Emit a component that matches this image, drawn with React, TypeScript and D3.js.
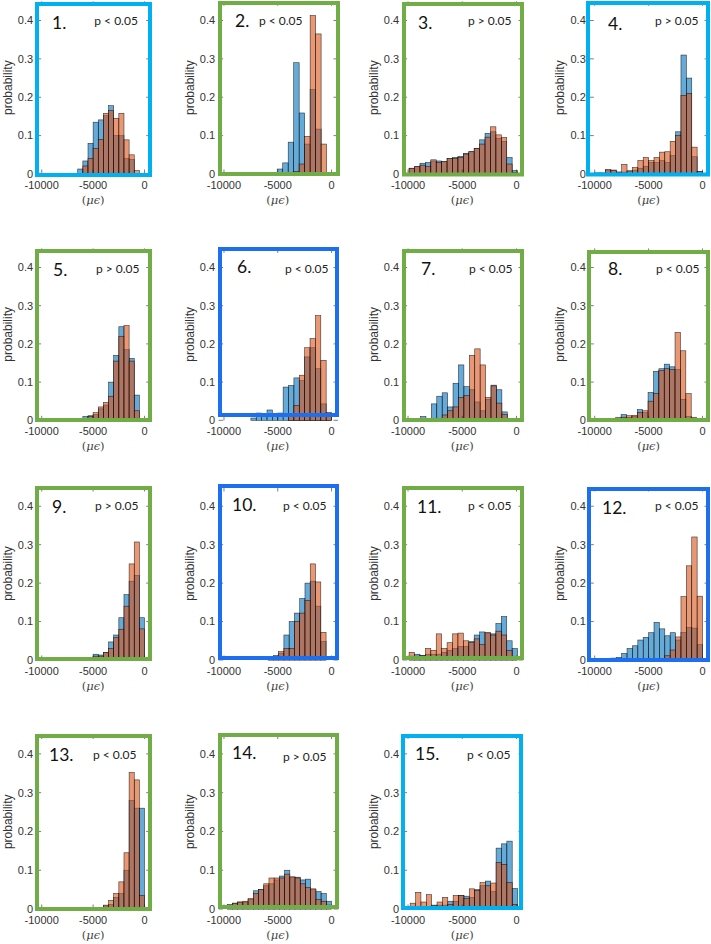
import { useEffect, useRef } from "react";
import * as d3 from "d3";

// ---- data ----
const panelNames = ["1.", "2.", "3.", "4.", "5.", "6.", "7.", "8.", "9.", "10.", "11.", "12.", "13.", "14.", "15."];
const pLabels = [
  "p < 0.05", "p < 0.05", "p > 0.05", "p > 0.05",
  "p > 0.05", "p < 0.05", "p < 0.05", "p < 0.05",
  "p > 0.05", "p < 0.05", "p < 0.05", "p < 0.05",
  "p < 0.05", "p > 0.05", "p < 0.05",
];
const frameGroup = ["light", "green", "green", "light", "green", "blue", "green", "green", "green", "blue", "green", "blue", "green", "green", "light"];

// first bin edge and bin width (με) of every panel
const binStart = [-6500, -5050, -9900, -10000, -10000, -10000, -8850, -8550, -6000, -5900, -9900, -10000, -5000, -9700, -9800];
const binWidth = [500, 510, 500, 500, 500, 500, 500, 500, 500, 490, 500, 500, 500, 485, 495];

const blue1 = [0.013, 0.034, 0.08, 0.135, 0.141, 0.152, 0.178, 0.1, 0.1, 0.04, 0.038, 0];
const orange1 = [0, 0.021, 0.041, 0.067, 0.09, 0.158, 0.165, 0.145, 0.158, 0.089, 0.05, 0.009];
const blue2 = [0.013, 0.029, 0.083, 0.29, 0.159, 0.078, 0.22, 0.117, 0];
const orange2 = [0, 0, 0, 0.007, 0.026, 0.098, 0.413, 0.365, 0.078];
const blue3 = [0.015, 0.019, 0.028, 0.03, 0.034, 0.034, 0.032, 0.04, 0.043, 0.046, 0.054, 0.058, 0.067, 0.089, 0.106, 0.11, 0.093, 0.085, 0.043, 0.009];
const orange3 = [0.015, 0.019, 0.023, 0.02, 0.037, 0.03, 0.033, 0.04, 0.041, 0.043, 0.052, 0.058, 0.067, 0.078, 0.096, 0.123, 0.102, 0.095, 0.026, 0.004];
const blue4 = [0.003, 0.003, 0.01, 0.01, 0.005, 0.005, 0.008, 0.01, 0.015, 0.02, 0.03, 0.03, 0.035, 0.03, 0.048, 0.11, 0.31, 0.25, 0.045, 0.006];
const orange4 = [0, 0, 0.012, 0.01, 0.005, 0.025, 0.008, 0.017, 0.035, 0.043, 0.035, 0.043, 0.057, 0.058, 0.085, 0.1, 0.205, 0.21, 0.07, 0.006];
const blue5 = [0.002, 0.002, 0.002, 0, 0.003, 0.005, 0.005, 0.002, 0.01, 0.012, 0.015, 0.03, 0.04, 0.1, 0.17, 0.245, 0.185, 0.162, 0.066];
const orange5 = [0.002, 0.002, 0, 0, 0.003, 0.005, 0.005, 0.002, 0.005, 0.01, 0.02, 0.035, 0.047, 0.063, 0.155, 0.22, 0.248, 0.155, 0.025];
const blue6 = [0, 0, 0, 0, 0, 0.006, 0.019, 0.018, 0.027, 0.017, 0.019, 0.087, 0.091, 0.111, 0.104, 0.166, 0.19, 0.135, 0.043, 0.01];
const orange6 = [0, 0, 0, 0, 0, 0, 0, 0, 0, 0, 0, 0, 0.015, 0.039, 0.118, 0.19, 0.214, 0.274, 0.157, 0.021];
const blue7 = [0.01, 0.002, 0.043, 0.063, 0.072, 0.035, 0.097, 0.145, 0.088, 0.08, 0.048, 0.025, 0.055, 0.092, 0.08, 0.022];
const orange7 = [0, 0, 0, 0.005, 0.014, 0.025, 0.035, 0.06, 0.065, 0.17, 0.187, 0.145, 0.06, 0.09, 0.045, 0.015];
const blue8 = [0.002, 0.004, 0.015, 0.008, 0.01, 0.028, 0.02, 0.073, 0.128, 0.135, 0.147, 0.14, 0.133, 0.055, 0.01, 0];
const orange8 = [0.003, 0.008, 0.008, 0.012, 0.013, 0.02, 0.025, 0.05, 0.07, 0.13, 0.135, 0.133, 0.23, 0.182, 0.07, 0.008];
const blue9 = [0.003, 0.005, 0.015, 0.013, 0.02, 0.047, 0.065, 0.11, 0.17, 0.205, 0.22, 0.11];
const orange9 = [0.002, 0.003, 0.01, 0.01, 0.02, 0.03, 0.058, 0.08, 0.14, 0.25, 0.307, 0.081];
const blue10 = [0.002, 0.008, 0.018, 0.065, 0.1, 0.122, 0.16, 0.2, 0.205, 0.14, 0.048];
const orange10 = [0.003, 0.012, 0.022, 0.03, 0.03, 0.1, 0.122, 0.155, 0.25, 0.203, 0.072];
const blue11 = [0.01, 0.015, 0.012, 0.015, 0.015, 0.015, 0.02, 0.025, 0.03, 0.035, 0.035, 0.048, 0.065, 0.073, 0.07, 0.068, 0.095, 0.113, 0.05, 0.03];
const orange11 = [0.02, 0.01, 0.012, 0.03, 0.025, 0.068, 0.03, 0.045, 0.068, 0.07, 0.05, 0.045, 0.055, 0.04, 0.072, 0.065, 0.075, 0.065, 0.025, 0.005];
const blue12 = [0.002, 0.003, 0.004, 0.005, 0.007, 0.017, 0.03, 0.037, 0.052, 0.059, 0.071, 0.098, 0.081, 0.063, 0.071, 0.052, 0.072, 0.085, 0.083, 0.04];
const orange12 = [0, 0, 0, 0, 0, 0, 0, 0, 0, 0, 0, 0, 0, 0.011, 0.026, 0.06, 0.165, 0.245, 0.32, 0.166];
const blue13 = [0.003, 0.003, 0.008, 0.012, 0.03, 0.04, 0.1, 0.28, 0.26, 0.26];
const orange13 = [0.003, 0.002, 0.01, 0.022, 0.04, 0.07, 0.145, 0.352, 0.333, 0.035];
const blue14 = [0.012, 0.015, 0.018, 0.018, 0.025, 0.047, 0.05, 0.06, 0.065, 0.075, 0.085, 0.1, 0.082, 0.082, 0.075, 0.077, 0.05, 0.045, 0.04, 0.02];
const orange14 = [0.007, 0.015, 0.018, 0.02, 0.027, 0.04, 0.05, 0.065, 0.08, 0.08, 0.08, 0.09, 0.083, 0.08, 0.065, 0.055, 0.052, 0.025, 0.02, 0.01];
const blue15 = [0.005, 0.005, 0.005, 0.005, 0.01, 0.01, 0.01, 0.02, 0.02, 0.035, 0.033, 0.03, 0.05, 0.06, 0.072, 0.045, 0.157, 0.168, 0.175, 0.053];
const orange15 = [0.015, 0.043, 0.018, 0.037, 0.008, 0.018, 0.03, 0.012, 0.035, 0.035, 0.027, 0.052, 0.048, 0.068, 0.06, 0.067, 0.12, 0.115, 0.068, 0.012];

const blueSeries = [blue1, blue2, blue3, blue4, blue5, blue6, blue7, blue8, blue9, blue10, blue11, blue12, blue13, blue14, blue15];
const orangeSeries = [orange1, orange2, orange3, orange4, orange5, orange6, orange7, orange8, orange9, orange10, orange11, orange12, orange13, orange14, orange15];

const xTicks = [-10000, -5000, 0];
const yTicks = [0, 0.1, 0.2, 0.3, 0.4];

// ---- layout (pixels) ----
const W = 711;
const H = 944;
const X_DOMAIN = [-10500, 600];
const Y_DOMAIN = [0, 0.45];
const colAxis = [[36.6, 150.7], [218.6, 338], [402.6, 523], [589.3, 709]];
const rowAxis = [[1.3, 174], [248.4, 420.3], [487, 660], [734.5, 909]];
// hand-drawn coloured frames: x1, y1, x2, y2 (stroke centre)
const frames = [
  [37, 4, 150, 175], [220, 3, 338, 174], [404, 4, 522, 174.5], [588, 3, 708, 174.5],
  [37, 251, 150, 420], [220, 249, 337, 415], [404, 251, 522, 420], [589, 252, 708, 420],
  [37, 488, 150, 659], [220, 486, 337, 658], [404, 488, 522, 658], [589, 489, 708, 660],
  [37, 736, 150, 909], [220, 735, 337, 907], [403, 736, 521, 908],
];
const numPos = [
  [52, 29.3], [235, 26.7], [418, 29], [608, 30],
  [53, 276], [237, 273], [421, 275], [608, 275],
  [52, 513], [232, 511], [417, 513], [602, 513.7],
  [49, 761], [232, 759], [415, 760],
];
const pPos = [
  [94.3, 25], [259, 25], [468, 25], [655, 25],
  [96, 272.7], [285, 272.7], [469, 273], [656, 273],
  [95, 509.7], [283, 510], [468, 510], [655, 510],
  [93, 759], [283, 760.7], [467, 759],
];
const frameColor: Record<string, string> = { light: "#00b0f0", green: "#70ad47", blue: "#1e6ef0" };

export default function App() {
  const svgRef = useRef<SVGSVGElement>(null);

  useEffect(() => {
    if (!svgRef.current) return;
    const svg = d3.select(svgRef.current);
    svg.selectAll("*").remove();
    svg.append("rect").attr("width", W).attr("height", H).attr("fill", "#fff");

    panelNames.forEach((name, i) => {
      const col = i % 4;
      const row = Math.floor(i / 4);
      const [xl, xr] = colAxis[col];
      const [yt, yb] = rowAxis[row];
      const x = d3.scaleLinear().domain(X_DOMAIN).range([xl, xr]);
      const y = d3.scaleLinear().domain(Y_DOMAIN).range([yb, yt]);
      const g = svg.append("g");

      // histograms: blue first, orange on top (both semi transparent)
      const drawHist = (vals: number[], color: string) => {
        g.append("g")
          .selectAll("rect")
          .data(vals.map((v, k) => ({ v, k })).filter(d => d.v > 0))
          .join("rect")
          .attr("x", d => x(binStart[i] + d.k * binWidth[i]))
          .attr("width", d => x(binStart[i] + (d.k + 1) * binWidth[i]) - x(binStart[i] + d.k * binWidth[i]))
          .attr("y", d => y(d.v))
          .attr("height", d => y(0) - y(d.v))
          .attr("fill", color).attr("fill-opacity", 0.6)
          .attr("stroke", "#000").attr("stroke-opacity", 0.75).attr("stroke-width", 0.6);
      };
      drawHist(blueSeries[i], "#0072bd");
      drawHist(orangeSeries[i], "#d95319");

      // inward ticks on all four sides
      const tk = 4.5;
      const tickG = g.append("g").attr("stroke", "#262626").attr("stroke-width", 0.6);
      yTicks.forEach(t => {
        tickG.append("line").attr("x1", xl).attr("x2", xl + tk).attr("y1", y(t)).attr("y2", y(t));
        tickG.append("line").attr("x1", xr).attr("x2", xr - tk).attr("y1", y(t)).attr("y2", y(t));
      });
      xTicks.forEach(t => {
        tickG.append("line").attr("x1", x(t)).attr("x2", x(t)).attr("y1", yb).attr("y2", yb - tk);
        tickG.append("line").attr("x1", x(t)).attr("x2", x(t)).attr("y1", yt).attr("y2", yt + tk);
      });

      // tick labels
      const tickFont = "'Liberation Sans', Arial, sans-serif";
      yTicks.forEach(t => {
        g.append("text").attr("x", xl - 3.5).attr("y", y(t)).attr("dy", "0.35em")
          .attr("text-anchor", "end").attr("font-family", tickFont).attr("font-size", 11)
          .attr("fill", "#333").text(t === 0 ? "0" : d3.format(".1f")(t));
      });
      xTicks.forEach(t => {
        g.append("text").attr("x", x(t)).attr("y", yb + 14.5)
          .attr("text-anchor", "middle").attr("font-family", tickFont).attr("font-size", 11)
          .attr("fill", "#333").text(String(t));
      });

      // axis titles
      g.append("text")
        .attr("transform", `translate(${xl - 25},${(yt + yb) / 2}) rotate(-90)`)
        .attr("text-anchor", "middle").attr("font-family", tickFont).attr("font-size", 12)
        .attr("fill", "#333").text("probability");
      const xt = g.append("text").attr("x", x(0) - (x(0) - x(-10000)) / 2).attr("y", yb + 29.5)
        .attr("text-anchor", "middle").attr("font-family", "'DejaVu Serif', 'Liberation Serif', serif")
        .attr("font-size", 11.5).attr("fill", "#444");
      xt.append("tspan").text("(");
      xt.append("tspan").attr("font-style", "italic").text("μϵ");
      xt.append("tspan").text(")");

      // coloured frame
      const [fx1, fy1, fx2, fy2] = frames[i];
      g.append("rect").attr("x", fx1).attr("y", fy1).attr("width", fx2 - fx1).attr("height", fy2 - fy1)
        .attr("fill", "none").attr("stroke", frameColor[frameGroup[i]]).attr("stroke-width", 4);

      // panel number and p-value
      g.append("text").attr("x", numPos[i][0]).attr("y", numPos[i][1])
        .attr("font-family", "Lato, 'Open Sans', sans-serif").attr("font-size", 17.5)
        .attr("fill", "#111").text(name);
      g.append("text").attr("x", pPos[i][0]).attr("y", pPos[i][1])
        .attr("font-family", "Lato, 'Open Sans', sans-serif").attr("font-size", 12)
        .attr("fill", "#222").text(pLabels[i]);
    });
  }, []);

  return (
    <svg ref={svgRef} width={W} height={H}
      style={{ position: "absolute", left: 0, top: 0, display: "block" }} />
  );
}
